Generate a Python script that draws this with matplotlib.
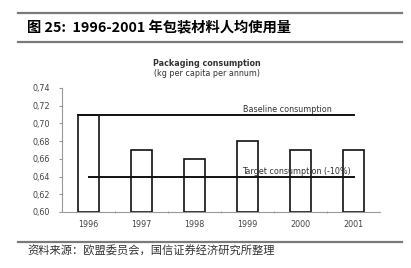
import numpy as np
import matplotlib.pyplot as plt
from matplotlib.lines import Line2D

plt.rcParams['font.family'] = ['Noto Sans CJK SC', 'DejaVu Sans']

years = ['1996', '1997', '1998', '1999', '2000', '2001']
consumption = [0.71, 0.67, 0.66, 0.68, 0.67, 0.67]
baseline = 0.71
target = 0.64
yticks = [0.60, 0.62, 0.64, 0.66, 0.68, 0.70, 0.72, 0.74]
ytick_labels = ['0,60', '0,62', '0,64', '0,66', '0,68', '0,70', '0,72', '0,74']

W, H = 411, 268
fig = plt.figure(figsize=(W / 100, H / 100), dpi=100)

def fy(py):
    return 1 - py / H

# header / footer rules
for py in (13, 42, 242):
    fig.add_artist(Line2D([18 / W, 402 / W], [fy(py), fy(py)], color='#7a7a7a', lw=1.6))
fig.text(27 / W, fy(28), '图 25:  1996-2001 年包装材料人均使用量', fontsize=10.3,
         fontweight='bold', va='center', ha='left')
fig.text(27 / W, fy(251), '资料来源：欧盟委员会，国信证券经济研究所整理', fontsize=8.1,
         va='center', ha='left', color='#333333', fontweight='light')

# chart title
fig.text(207 / W, fy(64), 'Packaging consumption', fontsize=5.8, fontweight='bold',
         ha='center', va='center', color='#333333', family='DejaVu Sans')
fig.text(207 / W, fy(74), '(kg per capita per annum)', fontsize=5.8,
         ha='center', va='center', color='#333333', family='DejaVu Sans')

ax = fig.add_axes([62 / W, fy(212), (380 - 62) / W, (212 - 88) / H])
x = np.arange(len(years))
ax.bar(x, np.array(consumption) - 0.60, bottom=0.60, width=0.4,
       facecolor='white', edgecolor='#111111', linewidth=1.2, zorder=2)

ax.plot([-0.2, 5.0], [baseline, baseline], color='#111111', lw=1.4, zorder=3)
ax.plot([0.0, 5.0], [target, target], color='#111111', lw=1.4, zorder=3)
ax.text(2.92, baseline + 0.0008, 'Baseline consumption', fontsize=5.8, color='#333333',
        ha='left', va='bottom', family='DejaVu Sans')
ax.text(2.90, target + 0.0008, 'Target consumption (-10%)', fontsize=5.8, color='#333333',
        ha='left', va='bottom', family='DejaVu Sans', zorder=4)

ax.set_xlim(-0.5, 5.5)
ax.set_ylim(0.60, 0.74)
ax.set_yticks(yticks)
ax.set_yticklabels(ytick_labels)
ax.set_xticks(x)
ax.set_xticklabels(years)
ax.set_xticks(x[:-1] + 0.5, minor=True)
ax.tick_params(axis='x', which='major', length=0, pad=6, labelsize=5.8, labelcolor='#444444')
ax.tick_params(axis='x', which='minor', length=2, direction='inout', color='#999999')
ax.tick_params(axis='y', length=2.5, color='#999999', labelsize=5.8, labelcolor='#444444', pad=6)
for lab in ax.get_xticklabels() + ax.get_yticklabels():
    lab.set_family('DejaVu Sans')
for s in ('top', 'right'):
    ax.spines[s].set_visible(False)
for s in ('left', 'bottom'):
    ax.spines[s].set_color('#999999')
    ax.spines[s].set_linewidth(0.8)

fig.savefig('out.png', dpi=100)
